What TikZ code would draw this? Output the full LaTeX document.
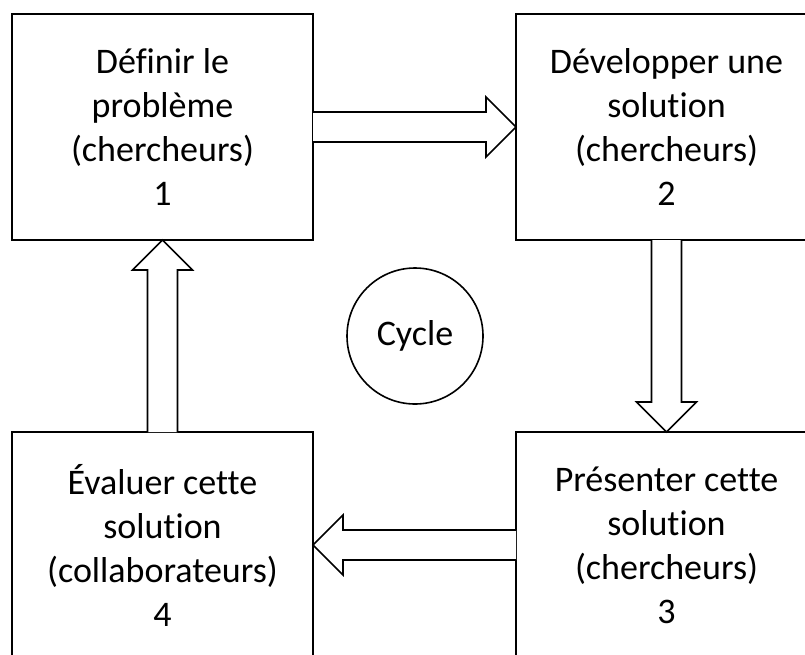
\documentclass[tikz,border=0pt]{standalone}
\usepackage{fontspec}
\setmainfont{Carlito}[Ligatures={NoCommon}]
\usetikzlibrary{calc}
\begin{document}
\begin{tikzpicture}[x=0.75pt,y=-0.75pt,
  stage/.style={draw=black, line width=1.4pt, fill=white, outer sep=0pt,
    minimum width=225.75pt, minimum height=169.5pt, inner sep=0pt,
    align=center, font=\fontsize{27}{33}\selectfont},
  hub/.style={circle, draw=black, line width=1.2pt, fill=white, outer sep=0pt,
    minimum size=102pt, inner sep=0pt, font=\fontsize{27}{33}\selectfont},
  blockarrow/.style={draw=black, line width=1.2pt, fill=white, line join=miter}]
\useasboundingbox (0,0) rectangle (805,654);
\fill[white] (0,0) rectangle (805,654);
\clip (0,0) rectangle (805,654);

% the four stages of the cycle
\node[stage] (s1) at (162.5,127) {Définir le\\problème\\(chercheurs)\\1};
\node[stage] (s2) at (666.5,127) {Développer une\\solution\\(chercheurs)\\2};
\node[stage] (s3) at (666.5,545) {Présenter cette\\solution\\(chercheurs)\\3};
\node[stage] (s4) at (162.5,545) {Évaluer cette\\solution\\(collaborateurs)\\4};

% centre label
\node[hub] (hub) at (415,336) {Cycle};

% block arrows between the stages (tail side left open on the box edge)
\draw[blockarrow] ($(s1.east)+(0,-15)$) -- ($(s2.west)+(-30,-15)$) -- ($(s2.west)+(-30,-30)$)
  -- (s2.west) -- ($(s2.west)+(-30,30)$) -- ($(s2.west)+(-30,15)$) -- ($(s1.east)+(0,15)$);
\draw[blockarrow] ($(s2.south)+(-15,0)$) -- ($(s3.north)+(-15,-30)$) -- ($(s3.north)+(-30,-30)$)
  -- (s3.north) -- ($(s3.north)+(30,-30)$) -- ($(s3.north)+(15,-30)$) -- ($(s2.south)+(15,0)$);
\draw[blockarrow] ($(s3.west)+(0,-15)$) -- ($(s4.east)+(30,-15)$) -- ($(s4.east)+(30,-30)$)
  -- (s4.east) -- ($(s4.east)+(30,30)$) -- ($(s4.east)+(30,15)$) -- ($(s3.west)+(0,15)$);
\draw[blockarrow] ($(s4.north)+(-15,0)$) -- ($(s1.south)+(-15,30)$) -- ($(s1.south)+(-30,30)$)
  -- (s1.south) -- ($(s1.south)+(30,30)$) -- ($(s1.south)+(15,30)$) -- ($(s4.north)+(15,0)$);
\end{tikzpicture}
\end{document}
